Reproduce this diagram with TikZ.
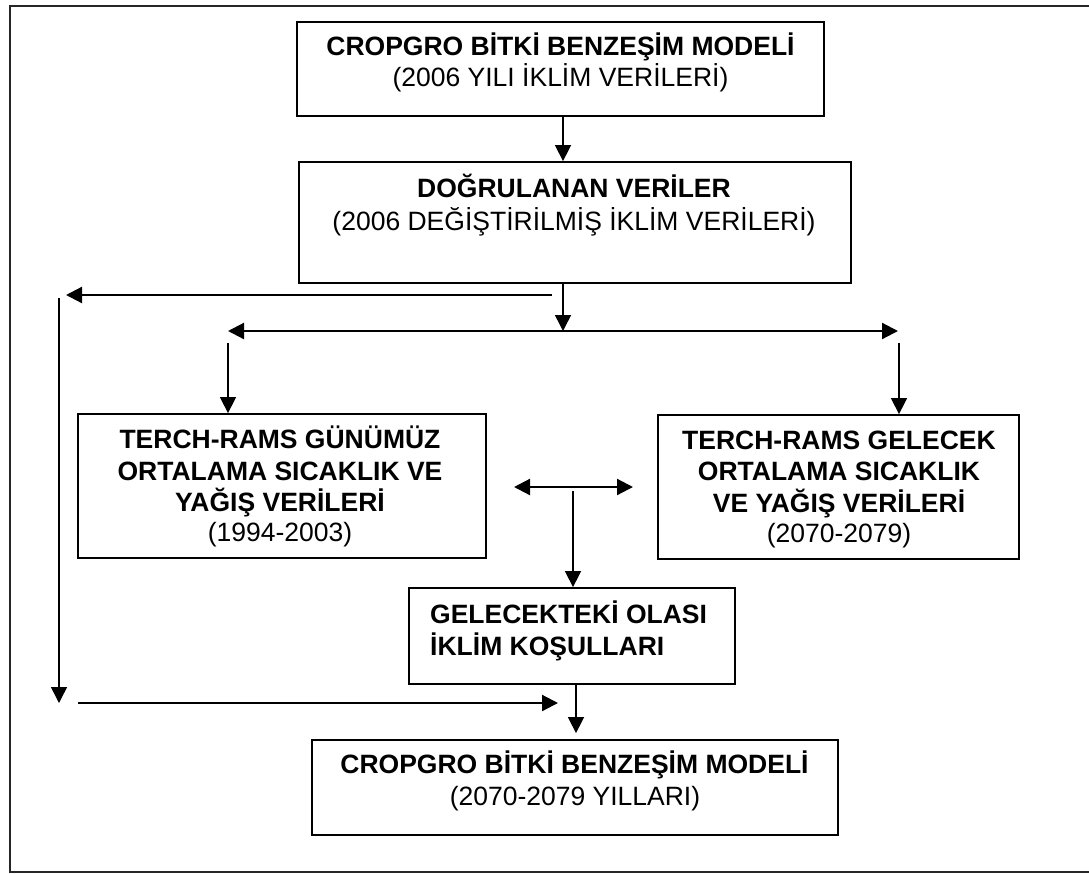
\documentclass[tikz,border=0pt]{standalone}
\usepackage{fontspec}
\setmainfont{Liberation Sans}
\usetikzlibrary{arrows.meta}
\begin{document}
\begin{tikzpicture}[x=1pt,y=-1pt,
  box/.style={draw=black, line width=1.8pt, inner sep=0pt},
  ln/.style={anchor=base, inner sep=0pt, font=\fontsize{26.5}{31}\selectfont},
  bd/.style={anchor=base, inner sep=0pt, font=\fontsize{26.5}{31}\selectfont\bfseries},
  bdw/.style={anchor=base west, inner sep=0pt, font=\fontsize{26.5}{31}\selectfont\bfseries},
  varr/.style={-{Triangle[length=16pt,width=16pt]}, line width=1.5pt},
  harr/.style={-{Triangle[length=16pt,width=16pt]}, line width=2.2pt},
  dharr/.style={{Triangle[length=16pt,width=16pt]}-{Triangle[length=16pt,width=16pt]}, line width=2.2pt},
  frame/.style={line width=2pt, draw=black!85}]
\useasboundingbox (0,0) rectangle (1089,873);
\draw[frame] (1100,6) -- (10,6) -- (10,872) -- (1100,872);

% boxes
\node[box, minimum width=527pt, minimum height=94pt] (b1) at (560.5,69) {};
\node[box, minimum width=552pt, minimum height=121pt] (b2) at (575,222.5) {};
\node[box, minimum width=408pt, minimum height=144pt] (b3) at (282,486) {};
\node[box, minimum width=361pt, minimum height=144pt] (b4) at (838.5,487) {};
\node[box, minimum width=326pt, minimum height=96pt] (b5) at (572,636) {};
\node[box, minimum width=526pt, minimum height=95pt] (b6) at (575,787.5) {};

% texts
\node[bd] (t1a) at (560.5,55) {CROPGRO BİTKİ BENZEŞİM MODELİ};
\node[ln] (t1b) at (560.5,86) {(2006 YILI İKLİM VERİLERİ)};
\node[bd] (t2a) at (574,197) {DOĞRULANAN VERİLER};
\node[ln] (t2b) at (574,230) {(2006 DEĞİŞTİRİLMİŞ İKLİM VERİLERİ)};
\node[bd] (t3a) at (280,448) {TERCH-RAMS GÜNÜMÜZ};
\node[bd] (t3b) at (280,480) {ORTALAMA SICAKLIK VE};
\node[bd] (t3c) at (280,511) {YAĞIŞ VERİLERİ};
\node[ln] (t3d) at (280,541) {(1994-2003)};
\node[bd] (t4a) at (839,449) {TERCH-RAMS GELECEK};
\node[bd] (t4b) at (839,480) {ORTALAMA SICAKLIK};
\node[bd] (t4c) at (839,512) {VE YAĞIŞ VERİLERİ};
\node[ln] (t4d) at (839,542) {(2070-2079)};
\node[bdw] (t5a) at (430,623) {GELECEKTEKİ OLASI};
\node[bdw] (t5b) at (430,655) {İKLİM KOŞULLARI};
\node[bd] (t6a) at (574.5,773) {CROPGRO BİTKİ BENZEŞİM MODELİ};
\node[ln] (t6b) at (575,805) {(2070-2079 YILLARI)};

% junction coordinates
\coordinate (c1) at (563,0);
\coordinate (j1) at (563,331);
\coordinate (l1) at (552,295);
\coordinate (l2) at (66,295);
\coordinate (l3) at (59,298);
\coordinate (l4) at (59,703);
\coordinate (l5) at (78,703);
\coordinate (l6) at (558,703);
\coordinate (d1) at (228,331);
\coordinate (d2) at (898,331);
\coordinate (e1) at (228,343);
\coordinate (e2) at (899,343);
\coordinate (m1) at (514,487);
\coordinate (m2) at (633,487);
\coordinate (m3) at (573,491);
\coordinate (c2) at (576,0);

% connectors
\draw[varr] (b1.south -| c1) -- (b2.north -| c1);
\draw[varr] (b2.south -| c1) -- (j1);
\draw[harr] (l1) -- (l2);
\draw[varr] (l3) -- (l4);
\draw[harr] (l5) -- (l6);
\draw[dharr] (d1) -- (d2);
\draw[varr] (e1) -- (b3.north -| e1);
\draw[varr] (e2) -- (b4.north -| e2);
\draw[dharr] (m1) -- (m2);
\draw[varr] (m3) -- (b5.north -| m3);
\draw[varr, shorten >=6pt] (b5.south -| c2) -- (b6.north -| c2);
\end{tikzpicture}
\end{document}
